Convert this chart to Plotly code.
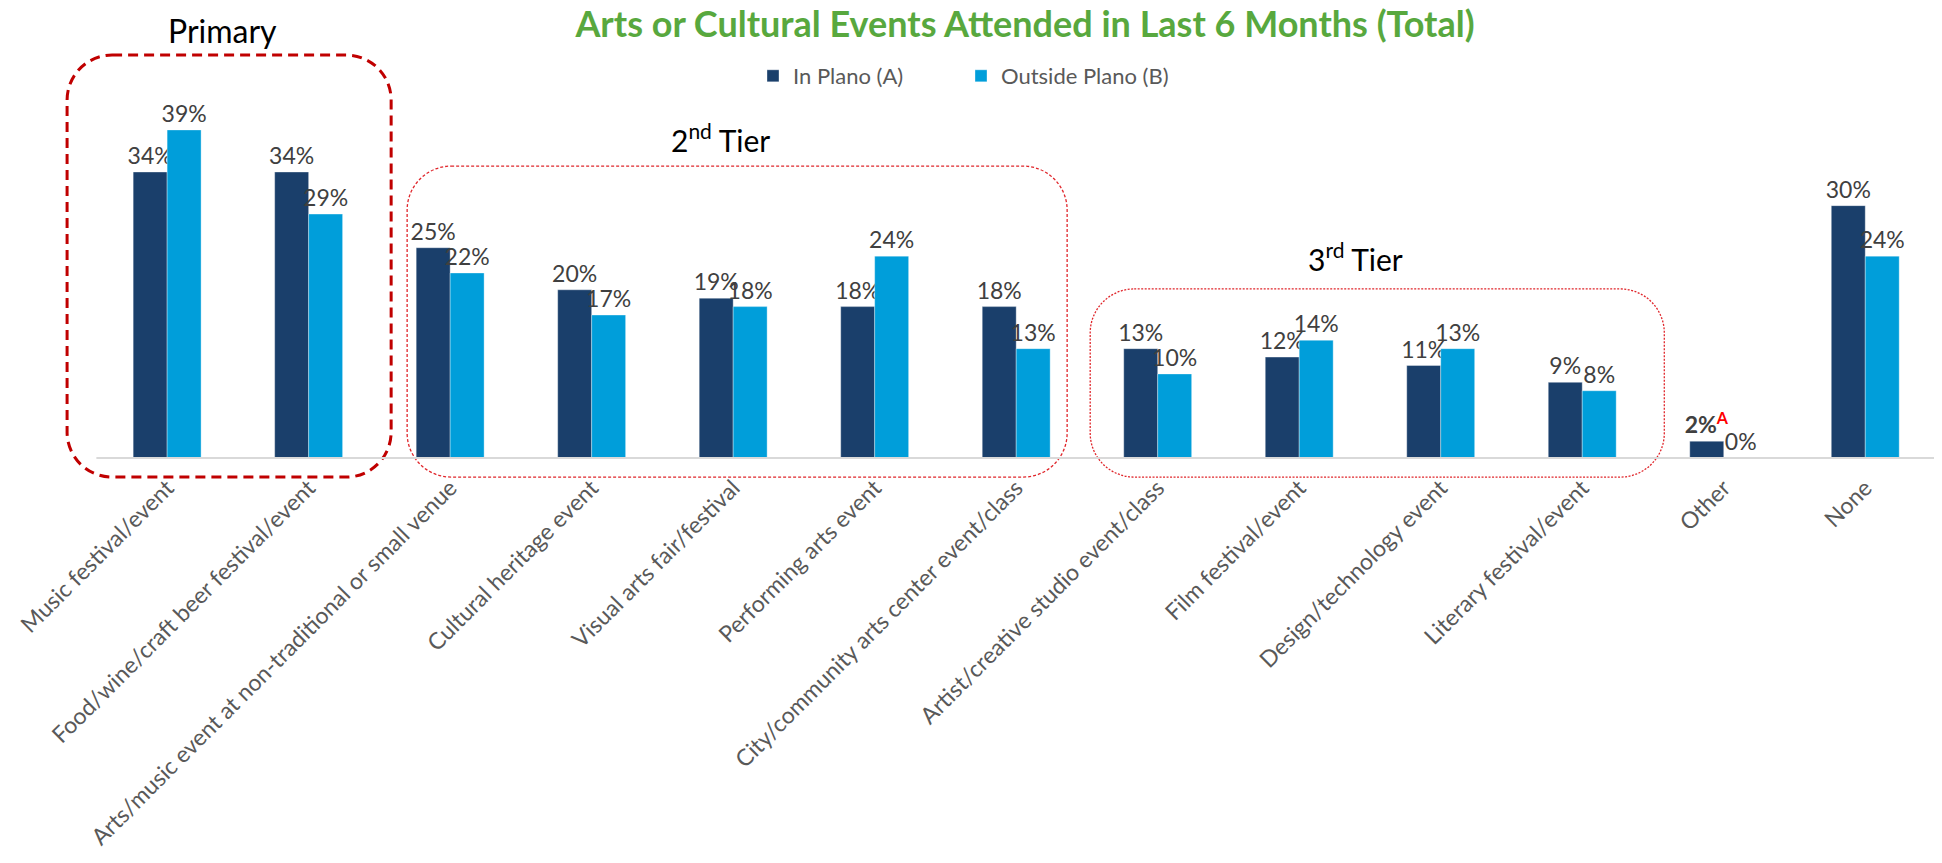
import plotly.graph_objects as go

# ---------------- data ----------------
categories = [
    "Music festival/event",
    "Food/wine/craft beer festival/event",
    "Arts/music event at non-traditional or small venue",
    "Cultural heritage event",
    "Visual arts fair/festival",
    "Performing arts event",
    "City/community arts center event/class",
    "Artist/creative studio event/class",
    "Film festival/event",
    "Design/technology event",
    "Literary festival/event",
    "Other",
    "None",
]
in_plano = [34, 34, 25, 20, 19, 18, 18, 13, 12, 11, 9, 2, 30]
outside_plano = [39, 29, 22, 17, 18, 24, 13, 10, 14, 13, 8, 0, 24]
sig_in_plano = ["", "", "", "", "", "", "", "", "", "", "", "A", ""]
series_names = ["In Plano (A)", "Outside Plano (B)"]
title_text = "Arts or Cultural Events Attended in Last 6 Months (Total)"
tier_labels = ["Primary", "2<sup>nd</sup> Tier", "3<sup>rd</sup> Tier"]

# ---------------- layout geometry ----------------
W, H = 1942, 863
OFF = 8  # page body margin offset
X_RANGE = [-0.75, 12.5]
Y_RANGE = [-1.3, 48.5]
PX_X = 141.5          # pixels per category
PX_Y = 8.41           # pixels per percentage point
ZERO_Y = 458 - OFF    # baseline position in figure pixels
M_L = 61 - OFF
PLOT_W = (X_RANGE[1] - X_RANGE[0]) * PX_X
PLOT_H = (Y_RANGE[1] - Y_RANGE[0]) * PX_Y
M_T = ZERO_Y - Y_RANGE[1] * PX_Y
M_R = W - M_L - PLOT_W
M_B = H - M_T - PLOT_H

COL_A = "#1A3F6B"
COL_B = "#009EDA"
FONT = "Lato, 'Open Sans', sans-serif"

x = list(range(len(categories)))


def label(v, sig=""):
    if sig:
        return f"<b>{v}%</b><sup><b><span style='color:#FF0000'>{sig}</span></b></sup>"
    return f"{v}%"


text_a = [label(v, s) for v, s in zip(in_plano, sig_in_plano)]
text_b = [label(v) for v in outside_plano]

fig = go.Figure()
for vals, txt, name, col in [(in_plano, text_a, series_names[0], COL_A),
                             (outside_plano, text_b, series_names[1], COL_B)]:
    fig.add_trace(go.Bar(
        x=x, y=vals, name=name, marker_color=col,
        marker_line=dict(color="rgba(255,255,255,0.35)", width=1),
        text=txt, textposition="outside", cliponaxis=False, constraintext="none",
        textfont=dict(family=FONT, size=23, color="#404040"), hoverinfo="x+y",
    ))


def y_to_paper(v):
    return (v - Y_RANGE[0]) / (Y_RANGE[1] - Y_RANGE[0])


def x_to_paper(v):
    return (v - X_RANGE[0]) / (X_RANGE[1] - X_RANGE[0])


def rounded_rect(x0, x1, y0, y1, r_px):
    # inputs in axis units; output path in paper units (unclipped)
    x0, x1, y0, y1 = x_to_paper(x0), x_to_paper(x1), y_to_paper(y0), y_to_paper(y1)
    rx, ry = r_px / PLOT_W, r_px / PLOT_H
    k = 0.4477
    return (
        f"M {x0 + rx},{y1} L {x1 - rx},{y1} "
        f"C {x1 - rx * k},{y1} {x1},{y1 - ry * k} {x1},{y1 - ry} "
        f"L {x1},{y0 + ry} "
        f"C {x1},{y0 + ry * k} {x1 - rx * k},{y0} {x1 - rx},{y0} "
        f"L {x0 + rx},{y0} "
        f"C {x0 + rx * k},{y0} {x0},{y0 + ry * k} {x0},{y0 + ry} "
        f"L {x0},{y1 - ry} "
        f"C {x0},{y1 - ry * k} {x0 + rx * k},{y1} {x0 + rx},{y1} Z"
    )


# tier boxes: (x0, x1, y0, y1, radius_px, colour, width, dash)
boxes = [
    (-0.707, 1.583, -2.26, 47.9, 45, "#C00000", 3, "10px,6px"),
    (1.696, 6.36, -2.26, 34.7, 44, "#E0262B", 1.3, "3px,2px"),
    (6.523, 10.58, -2.26, 20.1, 44, "#E0262B", 1.3, "2px,1.5px"),
]
shapes = []
for bx0, bx1, by0, by1, r, c, w, d in boxes:
    shapes.append(dict(type="path", xref="paper", yref="paper",
                       path=rounded_rect(bx0, bx1, by0, by1, r),
                       line=dict(color=c, width=w, dash=d), layer="above"))
# category baseline
shapes.append(dict(type="line", xref="x", yref="y", x0=-0.5, x1=12.5, y0=0, y1=0,
                   line=dict(color="#D9D9D9", width=2), layer="above"))

# tier titles (x, y in axis units)
tier_pos = [(0.389, 50.8), (3.908, 38.0), (8.396, 23.9)]
tier_sizes = [32, 30, 30]
annotations = []
for t, (ax_, ay_), fs in zip(tier_labels, tier_pos, tier_sizes):
    annotations.append(dict(x=x_to_paper(ax_), y=y_to_paper(ay_), xref="paper", yref="paper",
                            text=t, showarrow=False,
                            font=dict(family=FONT, size=fs, color="#000000"),
                            xanchor="center", yanchor="middle"))

fig.update_layout(
    width=W, height=H,
    margin=dict(l=M_L, r=M_R, t=M_T, b=M_B, pad=0, autoexpand=False),
    paper_bgcolor="white", plot_bgcolor="white",
    barmode="group", bargap=0.52, bargroupgap=0,
    title=dict(text=f"<b>{title_text}</b>", x=(1025 - OFF) / W, xref="container",
               xanchor="center", y=1 - (24 - OFF) / H, yref="container", yanchor="middle",
               font=dict(family=FONT, size=36, color="#58A83E"), automargin=False),
    legend=dict(orientation="h", x=(753 - OFF) / W, xref="container", xanchor="left",
                y=1 - (76 - OFF) / H, yref="container", yanchor="middle",
                font=dict(family=FONT, size=22, color="#595959"),
                bgcolor="rgba(0,0,0,0)", itemwidth=30, traceorder="normal",
                entrywidth=163, entrywidthmode="pixels"),
    xaxis=dict(range=X_RANGE, tickmode="array", tickvals=x, ticktext=categories,
               tickangle=-45, showgrid=False, zeroline=False, showline=False,
               automargin=False, ticks="",
               tickfont=dict(family=FONT, size=23, color="#595959")),
    yaxis=dict(range=Y_RANGE, visible=False, showgrid=False, zeroline=False,
               automargin=False),
    shapes=shapes, annotations=annotations,
    showlegend=True,
)

fig.write_html("out.html")
